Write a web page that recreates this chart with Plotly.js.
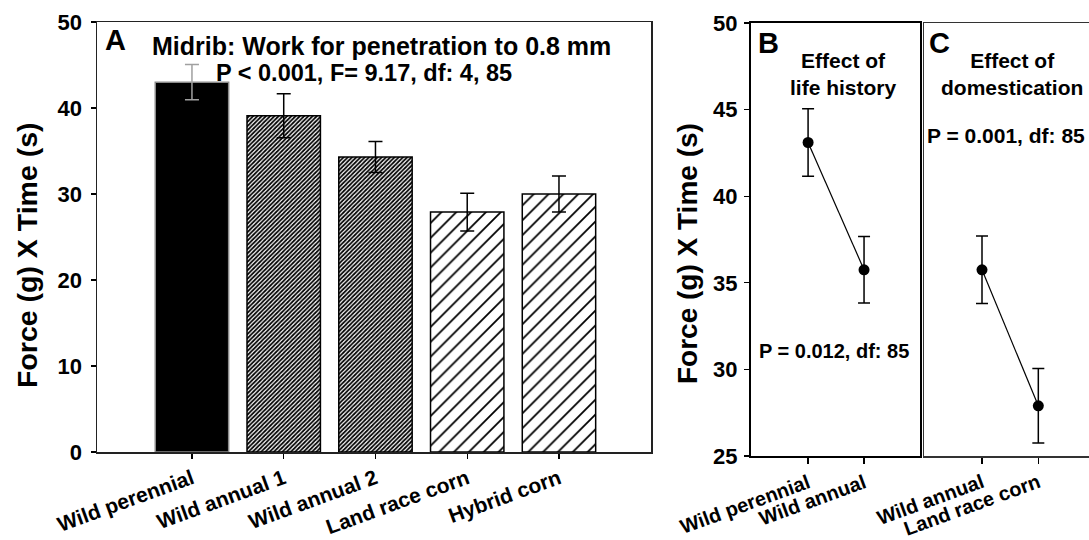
<!DOCTYPE html>
<html>
<head>
<meta charset="utf-8">
<script src="https://cdn.plot.ly/plotly-3.0.1.min.js"></script>
<style>html,body{margin:0;padding:0;background:#fff;overflow:hidden;}#chart{width:1089px;height:540px;}</style>
</head>
<body>
<div id="chart"></div>
<script>
// ---- data ----
const categoriesA = ['Wild perennial', 'Wild annual 1', 'Wild annual 2', 'Land race corn', 'Hybrid corn'];
const workA = [43.0, 39.1, 34.3, 27.9, 30.0];
const errA = [2.05, 2.55, 1.8, 2.2, 2.1];

const categoriesB = ['Wild perennial', 'Wild annual'];
const workB = [43.1, 35.75];
const errB = [1.95, 1.92];

const categoriesC = ['Wild annual', 'Land race corn'];
const workC = [35.75, 27.9];
const errC = [1.95, 2.15];

const ticksA = [0, 10, 20, 30, 40, 50];
const ticksB = [25, 30, 35, 40, 45, 50];

// ---- styling helpers ----
const W = 1089, H = 540;
const FONT = 'Arial, "Liberation Sans", Helvetica, sans-serif';
const px = v => v / W;
const py = v => 1 - v / H;
const bold = (size) => ({family: FONT, size: size, color: '#000', weight: 'bold'});

const rest = categoriesA.slice(1);
const traces = [
  {
    type: 'bar', x: categoriesA.slice(0, 1), y: workA.slice(0, 1),
    xaxis: 'x', yaxis: 'y', width: 0.8,
    marker: {color: '#000', line: {color: '#8a8a8a', width: 1.5}},
    error_y: {type: 'data', array: errA.slice(0, 1), color: '#a0a0a0', thickness: 1.5, width: 7},
    hoverinfo: 'x+y', showlegend: false
  },
  {
    type: 'bar', x: rest, y: workA.slice(1),
    xaxis: 'x', yaxis: 'y', width: 0.8,
    marker: {
      color: '#fff',
      line: {color: '#000', width: 1.5},
      pattern: {
        shape: ['/', '/', '/', '/'],
        size: [3, 3, 10.5, 10.5],
        solidity: [0.58, 0.58, 0.17, 0.17],
        fgcolor: '#000', bgcolor: '#fff', fillmode: 'replace'
      }
    },
    error_y: {type: 'data', array: errA.slice(1), color: '#000', thickness: 1.5, width: 7},
    hoverinfo: 'x+y', showlegend: false
  },
  {
    type: 'scatter', mode: 'lines+markers', x: categoriesB, y: workB,
    xaxis: 'x2', yaxis: 'y2',
    line: {color: '#000', width: 1.2},
    marker: {color: '#000', size: 11},
    error_y: {type: 'data', array: errB, color: '#000', thickness: 1.5, width: 6},
    showlegend: false
  },
  {
    type: 'scatter', mode: 'lines+markers', x: categoriesC, y: workC,
    xaxis: 'x3', yaxis: 'y3',
    line: {color: '#000', width: 1.2},
    marker: {color: '#000', size: 11},
    error_y: {type: 'data', array: errC, color: '#000', thickness: 1.5, width: 6},
    showlegend: false
  }
];

const axisBase = {
  showgrid: false, zeroline: false, showline: true,
  linecolor: '#000', linewidth: 1.5, ticks: 'outside', ticklen: 6, tickwidth: 1.2, tickcolor: '#000',
  fixedrange: true
};

const layout = {
  width: W, height: H, autosize: false,
  margin: {l: 0, r: 0, t: 0, b: 0, pad: 0},
  paper_bgcolor: '#fff', plot_bgcolor: '#fff',
  barmode: 'overlay',
  showlegend: false,
  xaxis: Object.assign({}, axisBase, {
    domain: [px(97), px(651)], anchor: 'y',
    type: 'category', categoryorder: 'array', categoryarray: categoriesA,
    range: [-1.035, 5.003], mirror: true, linecolor: '#222',
    tickangle: -20, tickfont: bold(21), ticklen: 5
  }),
  yaxis: Object.assign({}, axisBase, {
    domain: [py(452), py(22)], anchor: 'x',
    range: [0, 50], tickvals: ticksA, mirror: true, linecolor: '#222',
    tickfont: bold(22), ticklen: 5, ticklabelstandoff: 4
  }),
  xaxis2: Object.assign({}, axisBase, {
    domain: [px(751), px(920)], anchor: 'y2',
    type: 'category', categoryorder: 'array', categoryarray: categoriesB,
    range: [-1.02, 2.0], mirror: true, linewidth: 2,
    tickangle: -20, tickfont: bold(20)
  }),
  yaxis2: Object.assign({}, axisBase, {
    domain: [py(456), py(23)], anchor: 'x2',
    range: [25, 50], tickvals: ticksB, mirror: true, linewidth: 2,
    tickfont: bold(22), ticklen: 5, ticklabelstandoff: 2
  }),
  xaxis3: Object.assign({}, axisBase, {
    domain: [px(924), 1], anchor: 'y3',
    type: 'category', categoryorder: 'array', categoryarray: categoriesC,
    range: [-1.03, 1.9], mirror: true, linecolor: '#333',
    tickangle: -20, tickfont: bold(20)
  }),
  yaxis3: Object.assign({}, axisBase, {
    domain: [py(456), py(23)], anchor: 'x3',
    range: [25, 50], showticklabels: false, ticks: '', mirror: false, linecolor: '#333'
  }),
  annotations: [
    {xref: 'paper', yref: 'paper', x: px(27), y: py(255), text: 'Force (g) X Time (s)', textangle: -90,
     showarrow: false, font: bold(28.5), xanchor: 'center', yanchor: 'middle'},
    {xref: 'paper', yref: 'paper', x: px(688), y: py(254), text: 'Force (g) X Time (s)', textangle: -90,
     showarrow: false, font: bold(28), xanchor: 'center', yanchor: 'middle'},
    {xref: 'paper', yref: 'paper', x: px(103), y: py(40), text: 'A', showarrow: false,
     font: bold(29), xanchor: 'left', yanchor: 'middle'},
    {xref: 'paper', yref: 'paper', x: px(381), y: py(46), text: 'Midrib: Work for penetration to 0.8 mm',
     showarrow: false, font: bold(25), xanchor: 'center', yanchor: 'middle'},
    {xref: 'paper', yref: 'paper', x: px(364), y: py(73), text: 'P < 0.001, F= 9.17, df: 4, 85',
     showarrow: false, font: bold(23.5), xanchor: 'center', yanchor: 'middle'},
    {xref: 'paper', yref: 'paper', x: px(756), y: py(43), text: 'B', showarrow: false,
     font: bold(29), xanchor: 'left', yanchor: 'middle'},
    {xref: 'paper', yref: 'paper', x: px(843), y: py(74), text: 'Effect of<br>life history',
     showarrow: false, font: bold(21), xanchor: 'center', yanchor: 'middle'},
    {xref: 'paper', yref: 'paper', x: px(757), y: py(351), text: 'P = 0.012, df: 85',
     showarrow: false, font: bold(20), xanchor: 'left', yanchor: 'middle'},
    {xref: 'paper', yref: 'paper', x: px(927), y: py(43), text: 'C', showarrow: false,
     font: bold(29), xanchor: 'left', yanchor: 'middle'},
    {xref: 'paper', yref: 'paper', x: px(1012), y: py(74), text: 'Effect of<br>domestication',
     showarrow: false, font: bold(21), xanchor: 'center', yanchor: 'middle'},
    {xref: 'paper', yref: 'paper', x: px(925), y: py(135), text: 'P = 0.001, df: 85',
     showarrow: false, font: bold(21), xanchor: 'left', yanchor: 'middle'}
  ]
};

Plotly.newPlot('chart', traces, layout, {displayModeBar: false, staticPlot: true});
</script>
</body>
</html>
